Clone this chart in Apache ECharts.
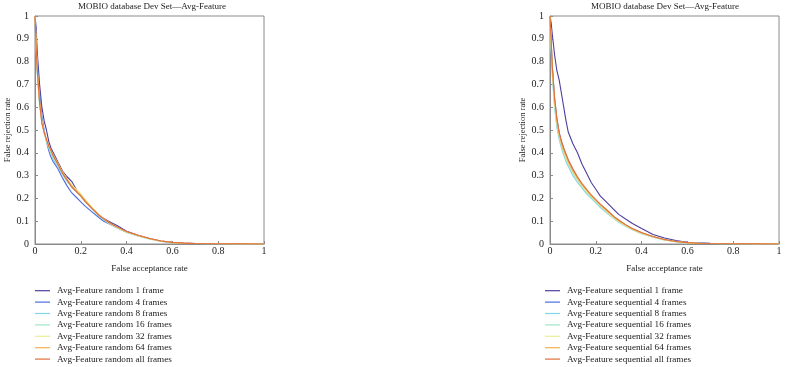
<!DOCTYPE html>
<html>
<head>
<meta charset="utf-8">
<script src="https://cdn.jsdelivr.net/npm/echarts@6/dist/echarts.min.js"></script>
<style>
  html, body { margin: 0; padding: 0; background: #fff; }
  #chart { width: 785px; height: 367px; }
</style>
</head>
<body>
<div id="chart"></div>
<script>
// false acceptance rate sample points (shared by every curve)
const far = [0, 0.005, 0.01, 0.02, 0.03, 0.04, 0.05, 0.06, 0.07, 0.08, 0.1, 0.12, 0.14, 0.16, 0.18, 0.2, 0.22, 0.25, 0.28, 0.3, 0.33, 0.36, 0.4, 0.45, 0.5, 0.55, 0.6, 0.65, 0.7, 0.8, 0.9, 1.0];

// random frame selection (left panel) - false rejection rate
const rnd1   = [1.0, 0.95, 0.84, 0.70, 0.60, 0.54, 0.50, 0.45, 0.42, 0.40, 0.36, 0.32, 0.295, 0.275, 0.24, 0.215, 0.19, 0.155, 0.125, 0.112, 0.095, 0.08, 0.056, 0.038, 0.024, 0.013, 0.007, 0.004, 0.002, 0.001, 0.0005, 0];
const rnd4   = [1.0, 0.84, 0.80, 0.66, 0.56, 0.50, 0.45, 0.41, 0.38, 0.36, 0.33, 0.29, 0.255, 0.225, 0.205, 0.185, 0.165, 0.14, 0.115, 0.10, 0.085, 0.07, 0.052, 0.036, 0.023, 0.012, 0.006, 0.003, 0.002, 0.001, 0.0005, 0];
const rnd8   = [1.0, 0.85, 0.75, 0.62, 0.54, 0.49, 0.45, 0.42, 0.395, 0.37, 0.34, 0.305, 0.275, 0.25, 0.23, 0.21, 0.185, 0.152, 0.122, 0.106, 0.086, 0.07, 0.051, 0.035, 0.022, 0.012, 0.006, 0.003, 0.002, 0.001, 0.0005, 0];
const rnd16  = [1.0, 0.86, 0.75, 0.61, 0.53, 0.485, 0.45, 0.425, 0.40, 0.38, 0.345, 0.31, 0.28, 0.255, 0.235, 0.215, 0.19, 0.155, 0.125, 0.108, 0.087, 0.07, 0.052, 0.035, 0.022, 0.012, 0.006, 0.003, 0.002, 0.001, 0.0005, 0];
const rnd32  = [1.0, 0.87, 0.76, 0.62, 0.54, 0.49, 0.455, 0.43, 0.405, 0.385, 0.35, 0.315, 0.285, 0.26, 0.24, 0.22, 0.195, 0.16, 0.128, 0.11, 0.088, 0.072, 0.053, 0.036, 0.023, 0.012, 0.006, 0.003, 0.002, 0.001, 0.0005, 0];
const rnd64  = [1.0, 0.88, 0.77, 0.63, 0.53, 0.49, 0.455, 0.43, 0.41, 0.39, 0.355, 0.315, 0.285, 0.255, 0.235, 0.215, 0.19, 0.157, 0.127, 0.112, 0.09, 0.074, 0.054, 0.037, 0.024, 0.013, 0.007, 0.004, 0.002, 0.001, 0.0005, 0];
const rndAll = [1.0, 0.86, 0.76, 0.62, 0.53, 0.49, 0.46, 0.43, 0.41, 0.385, 0.35, 0.31, 0.28, 0.25, 0.23, 0.21, 0.185, 0.155, 0.125, 0.11, 0.09, 0.075, 0.055, 0.038, 0.024, 0.013, 0.007, 0.004, 0.002, 0.001, 0.0005, 0];

// sequential frame selection (right panel)
const seq1   = [1.0, 0.97, 0.92, 0.83, 0.76, 0.72, 0.66, 0.60, 0.54, 0.49, 0.44, 0.40, 0.35, 0.31, 0.27, 0.24, 0.21, 0.18, 0.15, 0.13, 0.11, 0.09, 0.068, 0.042, 0.026, 0.015, 0.008, 0.005, 0.003, 0.001, 0.0005, 0];
const seq4   = [1.0, 0.89, 0.78, 0.64, 0.55, 0.49, 0.45, 0.42, 0.39, 0.365, 0.325, 0.29, 0.26, 0.235, 0.21, 0.19, 0.17, 0.145, 0.118, 0.103, 0.083, 0.066, 0.048, 0.032, 0.019, 0.011, 0.006, 0.003, 0.002, 0.001, 0.0005, 0];
const seq8   = [1.0, 0.86, 0.74, 0.60, 0.51, 0.46, 0.42, 0.39, 0.36, 0.34, 0.30, 0.27, 0.245, 0.22, 0.20, 0.18, 0.16, 0.135, 0.11, 0.095, 0.078, 0.063, 0.045, 0.03, 0.018, 0.01, 0.005, 0.003, 0.002, 0.001, 0.0005, 0];
const seq16  = [1.0, 0.87, 0.75, 0.61, 0.52, 0.47, 0.43, 0.40, 0.37, 0.35, 0.31, 0.28, 0.25, 0.225, 0.205, 0.185, 0.165, 0.138, 0.112, 0.097, 0.08, 0.064, 0.046, 0.031, 0.018, 0.01, 0.005, 0.003, 0.002, 0.001, 0.0005, 0];
const seq32  = [1.0, 0.88, 0.76, 0.62, 0.53, 0.475, 0.435, 0.405, 0.375, 0.355, 0.315, 0.283, 0.255, 0.23, 0.208, 0.188, 0.168, 0.14, 0.114, 0.099, 0.081, 0.065, 0.047, 0.031, 0.019, 0.01, 0.005, 0.003, 0.002, 0.001, 0.0005, 0];
const seq64  = [1.0, 0.89, 0.77, 0.63, 0.54, 0.48, 0.44, 0.41, 0.385, 0.36, 0.32, 0.288, 0.26, 0.235, 0.212, 0.192, 0.172, 0.144, 0.117, 0.102, 0.083, 0.066, 0.048, 0.032, 0.019, 0.011, 0.006, 0.003, 0.002, 0.001, 0.0005, 0];
const seqAll = [1.0, 0.90, 0.78, 0.64, 0.55, 0.49, 0.45, 0.42, 0.395, 0.37, 0.33, 0.295, 0.265, 0.24, 0.215, 0.195, 0.175, 0.148, 0.12, 0.105, 0.085, 0.068, 0.05, 0.033, 0.02, 0.011, 0.006, 0.003, 0.002, 0.001, 0.0005, 0];

const frameLabels = ['1 frame', '4 frames', '8 frames', '16 frames', '32 frames', '64 frames', 'all frames'];
const colors = ['#4b3f9e', '#4a6de0', '#7fd4e6', '#9fe6c4', '#ecec98', '#f4b050', '#e0703c'];

const titleText = 'MOBIO database Dev Set\u2014Avg-Feature';
const xName = 'False acceptance rate';
const yName = 'False rejection rate';

const font = 'Liberation Serif';
const axisCol = '#8a8a8a';

function xAxis(gi) {
  return {
    type: 'value', gridIndex: gi, min: 0, max: 1, interval: 0.2,
    name: xName, nameLocation: 'middle', nameGap: 20,
    nameTextStyle: { fontFamily: font, fontSize: 9, color: '#222' },
    axisLine: { lineStyle: { color: axisCol } },
    axisTick: { inside: true, length: 3, lineStyle: { color: axisCol } },
    axisLabel: { fontFamily: font, fontSize: 10, color: '#222', margin: 2 },
    splitLine: { show: false }
  };
}
function yAxis(gi) {
  return {
    type: 'value', gridIndex: gi, min: 0, max: 1, interval: 0.1,
    name: yName, nameLocation: 'middle', nameGap: 23,
    nameTextStyle: { fontFamily: font, fontSize: 8.5, color: '#222' },
    axisLine: { lineStyle: { color: axisCol } },
    axisTick: { inside: true, length: 3, lineStyle: { color: axisCol } },
    axisLabel: { fontFamily: font, fontSize: 10, color: '#222', margin: 6 },
    splitLine: { show: false }
  };
}

function makeSeries(prefix, arrays, gi) {
  return arrays.map((ys, i) => ({
    type: 'line',
    name: prefix + frameLabels[i],
    xAxisIndex: gi, yAxisIndex: gi,
    data: far.map((x, k) => [x, ys[k]]),
    showSymbol: false, symbol: 'none',
    lineStyle: { width: 1.1, color: colors[i] },
    itemStyle: { color: colors[i] }
  }));
}

const leftSeries = makeSeries('Avg-Feature random ', [rnd1, rnd4, rnd8, rnd16, rnd32, rnd64, rndAll], 0);
const rightSeries = makeSeries('Avg-Feature sequential ', [seq1, seq4, seq8, seq16, seq32, seq64, seqAll], 1);

function legend(left, names) {
  return {
    orient: 'vertical', left: left, top: 285, padding: 0, itemGap: 0,
    itemWidth: 15, itemHeight: 1.2, icon: 'rect',
    textStyle: { fontFamily: font, fontSize: 9.2, color: '#222', lineHeight: 11.4, padding: [0, 0, 0, 2] },
    data: names
  };
}

const titleStyle = { fontFamily: font, fontSize: 9, fontWeight: 'normal', color: '#222' };

const chart = echarts.init(document.getElementById('chart'));
chart.setOption({
  animation: false,
  title: [
    { text: titleText, left: 152, top: 2, textAlign: 'center', padding: 0, textStyle: titleStyle },
    { text: titleText, left: 665, top: 2, textAlign: 'center', padding: 0, textStyle: titleStyle }
  ],
  grid: [
    { left: 35, top: 16, width: 229, height: 228, show: true, borderColor: axisCol, borderWidth: 1, backgroundColor: 'transparent' },
    { left: 550, top: 16, width: 229, height: 228, show: true, borderColor: axisCol, borderWidth: 1, backgroundColor: 'transparent' }
  ],
  xAxis: [xAxis(0), xAxis(1)],
  yAxis: [yAxis(0), yAxis(1)],
  legend: [
    legend(35, leftSeries.map(s => s.name)),
    legend(545, rightSeries.map(s => s.name))
  ],
  series: leftSeries.concat(rightSeries)
});
</script>
</body>
</html>
